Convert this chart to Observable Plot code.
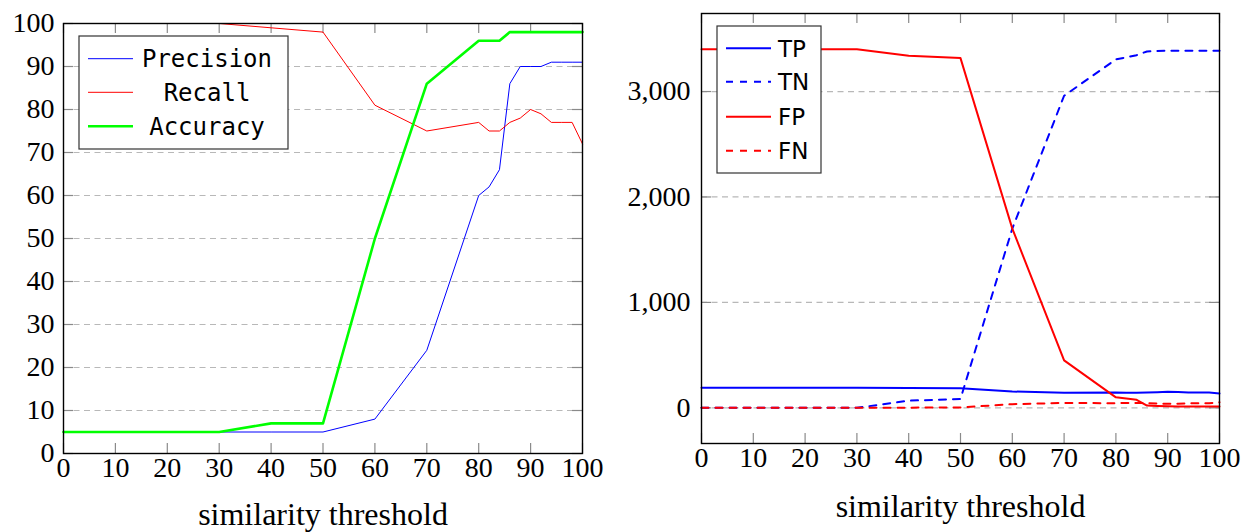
<!DOCTYPE html>
<html>
<head>
<meta charset="utf-8">
<script src="https://cdn.jsdelivr.net/npm/d3@7"></script>
<script src="https://cdn.jsdelivr.net/npm/@observablehq/plot@0.6"></script>
<style>
  body { margin: 0; background: #fff; }
  #wrap { position: relative; width: 1257px; height: 532px; }
  #wrap svg { position: absolute; top: 0; overflow: visible; }
  #wrap svg text { font-family: 'Liberation Serif', 'Times New Roman', serif; }
</style>
</head>
<body>
<div id="wrap"></div>
<script>
// Similarity thresholds (%) at which the metrics were evaluated
const thresholds = [0, 10, 20, 30, 40, 50, 60, 70, 80, 82, 84, 86, 88, 90, 92, 94, 96, 98, 100];

// Left panel: rates in percent
const precision = [5, 5, 5, 5, 5, 5, 8, 24, 60, 62, 66, 86, 90, 90, 90, 91, 91, 91, 91];
const recall    = [100, 100, 100, 100, 99, 98, 81, 75, 77, 75, 75, 77, 78, 80, 79, 77, 77, 77, 72];
const accuracy  = [5, 5, 5, 5, 7, 7, 50, 86, 96, 96, 96, 98, 98, 98, 98, 98, 98, 98, 98];

// Right panel: confusion-matrix counts
const tp = [190, 190, 190, 190, 188, 186, 155, 143, 146, 143, 143, 146, 148, 152, 150, 146, 146, 146, 137];
const tn = [0, 0, 0, 0, 68, 85, 1700, 2960, 3305, 3323, 3345, 3380, 3385, 3387, 3387, 3387, 3387, 3387, 3387];
const fp = [3400, 3400, 3400, 3400, 3340, 3317, 1700, 450, 100, 88, 76, 22, 18, 15, 14, 13, 13, 13, 12];
const fn = [0, 0, 0, 0, 2, 4, 35, 47, 44, 47, 47, 44, 42, 38, 40, 44, 44, 44, 53];

// Axis ticks
const xTicks = d3.range(0, 101, 10);
const rateTicks = d3.range(0, 101, 10);
const countTicks = [0, 1000, 2000, 3000];

const serif = "'Liberation Serif', 'Times New Roman', serif";
const gridStyle = {stroke: "#b8b8b8", strokeOpacity: 1, strokeWidth: 1.2, strokeDasharray: "6,4.5"};
const tickStyle = {stroke: "#8a8a8a", strokeWidth: 1.2};
const TICK = 10;
const tickFont = {fontFamily: serif, fontSize: 28};

const series = (ys) => thresholds.map((t, i) => ({t, v: ys[i]}));

// Inward ticks on all four sides of the frame
function frameTicks(xs, ys, plotW, plotH) {
  return [
    Plot.tickX(xs, {x: d => d, insetTop: plotH - TICK, ...tickStyle}),
    Plot.tickX(xs, {x: d => d, insetBottom: plotH - TICK, ...tickStyle}),
    Plot.tickY(ys, {y: d => d, insetRight: plotW - TICK, ...tickStyle}),
    Plot.tickY(ys, {y: d => d, insetLeft: plotW - TICK, ...tickStyle})
  ];
}

function legend(svg, box, entries, font, fontSize, anchor, textX) {
  const g = d3.select(svg).append("g");
  g.append("rect")
    .attr("x", box.x).attr("y", box.y).attr("width", box.w).attr("height", box.h)
    .attr("fill", "#fff").attr("stroke", "#333").attr("stroke-width", 1.2);
  for (const e of entries) {
    g.append("line")
      .attr("x1", box.sx1).attr("x2", box.sx2).attr("y1", e.y).attr("y2", e.y)
      .attr("stroke", e.color).attr("stroke-width", e.width)
      .attr("stroke-dasharray", e.dash || null);
    g.append("text")
      .attr("x", textX).attr("y", e.y).attr("dy", "0.36em")
      .attr("text-anchor", anchor)
      .style("font-family", font).style("font-size", fontSize + "px")
      .attr("fill", "#000")
      .text(e.label);
  }
}

// ---- Left panel: precision / recall / accuracy ----
const L = {w: 630, h: 532, ml: 63, mr: 48, mt: 23, mb: 79};
const lPlotW = L.w - L.ml - L.mr, lPlotH = L.h - L.mt - L.mb;
const left = Plot.plot({
  width: L.w, height: L.h,
  marginLeft: L.ml, marginRight: L.mr, marginTop: L.mt, marginBottom: L.mb,
  x: {domain: [0, 100]},
  y: {domain: [0, 100]},
  style: {fontFamily: serif, fontSize: "28px", color: "#000", background: "transparent", overflow: "visible"},
  marks: [
    Plot.gridY(rateTicks.filter(d => d > 0 && d < 100), gridStyle),
    ...frameTicks(xTicks, rateTicks, lPlotW, lPlotH),
    Plot.line(series(precision), {x: "t", y: "v", stroke: "#0000ff", strokeWidth: 1}),
    Plot.line(series(recall), {x: "t", y: "v", stroke: "#ff0000", strokeWidth: 1}),
    Plot.line(series(accuracy), {x: "t", y: "v", stroke: "#00ff00", strokeWidth: 2.6}),
    Plot.frame({stroke: "#000", strokeWidth: 1.4}),
    Plot.axisX(xTicks, {tickSize: 0, tickPadding: 4, label: null, ...tickFont}),
    Plot.axisY(rateTicks, {tickSize: 0, tickPadding: 9, label: null, ...tickFont}),
    Plot.text(["similarity threshold"], {frameAnchor: "bottom", dy: 71, fontSize: 32, fontFamily: serif, text: d => d})
  ]
});
left.style.left = "0px";
document.getElementById("wrap").appendChild(left);
legend(left,
  {x: 79, y: 36, w: 209, h: 113, sx1: 88, sx2: 133},
  [
    {label: "Precision", color: "#0000ff", width: 1, y: 58.7},
    {label: "Recall", color: "#ff0000", width: 1, y: 92.3},
    {label: "Accuracy", color: "#00ff00", width: 2.6, y: 126.3}
  ],
  "'DejaVu Sans Mono', monospace", 24, "middle", 207);

// ---- Right panel: TP / TN / FP / FN counts ----
const R = {x: 630, w: 627, h: 532, ml: 71, mr: 38, mt: 13, mb: 89};
const rPlotW = R.w - R.ml - R.mr, rPlotH = R.h - R.mt - R.mb;
const right = Plot.plot({
  width: R.w, height: R.h,
  marginLeft: R.ml, marginRight: R.mr, marginTop: R.mt, marginBottom: R.mb,
  x: {domain: [0, 100]},
  y: {domain: [-338, 3740]},
  style: {fontFamily: serif, fontSize: "28px", color: "#000", background: "transparent", overflow: "visible"},
  marks: [
    Plot.gridY(countTicks, gridStyle),
    ...frameTicks(xTicks, countTicks, rPlotW, rPlotH),
    Plot.line(series(tp), {x: "t", y: "v", stroke: "#0000ff", strokeWidth: 2}),
    Plot.line(series(tn), {x: "t", y: "v", stroke: "#0000ff", strokeWidth: 2, strokeDasharray: "7,7"}),
    Plot.line(series(fp), {x: "t", y: "v", stroke: "#ff0000", strokeWidth: 2}),
    Plot.line(series(fn), {x: "t", y: "v", stroke: "#ff0000", strokeWidth: 2, strokeDasharray: "7,7"}),
    Plot.frame({stroke: "#000", strokeWidth: 1.4}),
    Plot.axisX(xTicks, {tickSize: 0, tickPadding: 4, label: null, ...tickFont}),
    Plot.axisY(countTicks, {tickSize: 0, tickPadding: 11, label: null, ...tickFont, tickFormat: d3.format(",")}),
    Plot.text(["similarity threshold"], {frameAnchor: "bottom", dy: 73, fontSize: 32, fontFamily: serif, text: d => d})
  ]
});
right.style.left = R.x + "px";
document.getElementById("wrap").appendChild(right);
legend(right,
  {x: 87, y: 26, w: 104, h: 147, sx1: 96, sx2: 141},
  [
    {label: "TP", color: "#0000ff", width: 2, y: 48.3},
    {label: "TN", color: "#0000ff", width: 2, y: 81.7, dash: "7,7"},
    {label: "FP", color: "#ff0000", width: 2, y: 116.7},
    {label: "FN", color: "#ff0000", width: 2, y: 150.7, dash: "7,7"}
  ],
  "'DejaVu Sans', sans-serif", 23, "start", 148);
</script>
</body>
</html>
